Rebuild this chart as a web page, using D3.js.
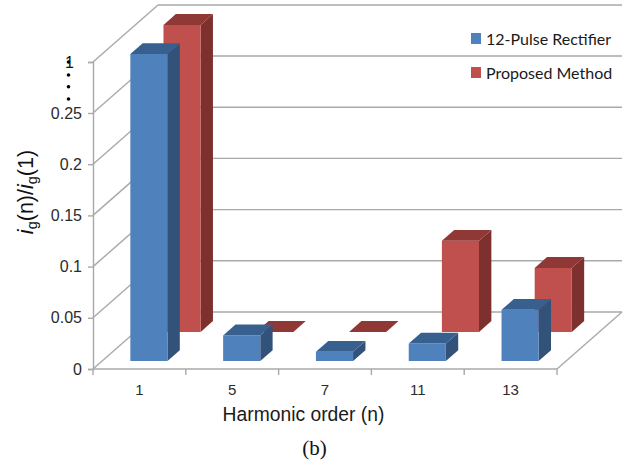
<!DOCTYPE html>
<html>
<head>
<meta charset="utf-8">
<script src="https://cdnjs.cloudflare.com/ajax/libs/d3/7.8.5/d3.min.js"></script>
<style>
  html, body { margin: 0; padding: 0; background: #fff; }
  svg { display: block; }
  text { font-family: "Liberation Sans", Arial, sans-serif; }
</style>
</head>
<body>
<svg id="chart" width="643" height="463"></svg>
<script>
const categories = ['1', '5', '7', '11', '13'];
const seriesNames = ['12-Pulse Rectifier', 'Proposed Method'];
const rectifier = [1, 0.025, 0.009, 0.017, 0.05];
const proposed = [1, 0, 0, 0.089, 0.0625];
const tickValues = [0, 0.05, 0.1, 0.15, 0.2, 0.25, 1];
const breakDots = [0, 0.33, 0.65, 1];

const svg = d3.select('#chart');

// axis is broken between 0.25 and 1
const y = d3.scaleLinear().domain([0, 0.25, 1]).range([369, 113, 62]);
const x = d3.scaleBand().domain(categories).range([93, 557])
  .paddingInner(0.6).paddingOuter(0.3);

// oblique depth of the 3d box
const depthX = 65, depthY = -57;
const px = (cat, t, side) => x(cat) + side * x.bandwidth() + t * depthX + 0.4;
const py = (v, t) => y(v) + t * depthY;

const grey = '#a9a9a9';

// walls and grid
const grid = svg.append('g').attr('fill', 'none').attr('stroke', grey).attr('stroke-width', 1.4);
grid.selectAll('line.back').data(tickValues).join('line')
  .attr('class', 'back')
  .attr('x1', 93 + depthX).attr('x2', 557 + depthX)
  .attr('y1', d => py(d, 1)).attr('y2', d => py(d, 1));
grid.selectAll('line.side').data(tickValues).join('line')
  .attr('class', 'side')
  .attr('x1', 93).attr('x2', 93 + depthX)
  .attr('y1', d => y(d)).attr('y2', d => py(d, 1));
grid.append('line').attr('x1', 557).attr('x2', 557 + depthX)
  .attr('y1', y(0)).attr('y2', py(0, 1));

// axes
const axisY = d3.axisLeft(y).tickValues(tickValues).tickSize(5).tickPadding(6)
  .tickFormat(d => String(d));
const gy = svg.append('g').attr('transform', 'translate(93,0)').call(axisY);
gy.select('.domain').attr('stroke', grey).attr('stroke-width', 1.4);
gy.selectAll('.tick line').attr('stroke', grey).attr('stroke-width', 1.4);
gy.selectAll('.tick text').attr('font-size', 16).attr('fill', '#2b2b2b');
gy.selectAll('.tick').filter(d => d === 1).select('text').attr('dx', -8).attr('fill', '#111');

// x axis, ticks sit between the categories
const xEdges = d3.range(categories.length + 1).map(i => 93 + i * x.step());
svg.append('line').attr('x1', 93).attr('x2', 557).attr('y1', y(0)).attr('y2', y(0))
  .attr('stroke', grey).attr('stroke-width', 1.4);
svg.selectAll('line.xtick').data(xEdges).join('line')
  .attr('class', 'xtick')
  .attr('x1', d => d).attr('x2', d => d)
  .attr('y1', y(0)).attr('y2', y(0) + 6)
  .attr('stroke', grey).attr('stroke-width', 1.4);
svg.selectAll('text.xlabel').data(categories).join('text')
  .attr('class', 'xlabel')
  .attr('x', d => x(d) + x.bandwidth() / 2)
  .attr('y', 395)
  .attr('text-anchor', 'middle').attr('font-size', 15).attr('fill', '#2b2b2b')
  .text(d => d);

// dots of the axis break
svg.selectAll('circle.brk').data(breakDots).join('circle')
  .attr('class', 'brk')
  .attr('cx', 68.5)
  .attr('cy', d => 99 - d * 37)
  .attr('r', 1.8).attr('fill', '#000');

// one 3d bar
function bar(g, cat, v, t0, t1, front, side, top) {
  const base = 0;
  const poly = pts => pts.map(p => p.join(',')).join(' ');
  if (v > 0) {
    g.append('polygon').attr('fill', side).attr('points', poly([
      [px(cat, t0, 1), py(base, t0)], [px(cat, t1, 1), py(base, t1)],
      [px(cat, t1, 1), py(v, t1)], [px(cat, t0, 1), py(v, t0)]]));
    g.append('polygon').attr('fill', front).attr('points', poly([
      [px(cat, t0, 0), py(base, t0)], [px(cat, t0, 1), py(base, t0)],
      [px(cat, t0, 1), py(v, t0)], [px(cat, t0, 0), py(v, t0)]]));
  }
  g.append('polygon').attr('fill', top).attr('points', poly([
    [px(cat, t0, 0), py(v, t0)], [px(cat, t0, 1), py(v, t0)],
    [px(cat, t1, 1), py(v, t1)], [px(cat, t1, 0), py(v, t1)]]));
}

const redG = svg.append('g');
categories.forEach((c, i) => bar(redG, c, proposed[i], 0.65, 0.84, '#c0504d', '#7d302e', '#8f3836'));
const blueG = svg.append('g');
categories.forEach((c, i) => bar(blueG, c, rectifier[i], 0.14, 0.33, '#4f81bd', '#32527a', '#38608f'));

// legend
const legendColor = d3.scaleOrdinal().domain(seriesNames).range(['#4f81bd', '#c0504d']);
const legend = svg.selectAll('g.legend').data(seriesNames).join('g')
  .attr('class', 'legend')
  .attr('transform', (d, i) => `translate(471,${33 + i * 34})`);
legend.append('rect').attr('width', 10).attr('height', 11).attr('fill', d => legendColor(d));
legend.append('text').attr('x', 15).attr('y', 11.5)
  .style('font-family', 'Lato').attr('font-size', 16).attr('fill', '#1a1a1a')
  .text(d => d);

// titles
svg.append('text').attr('x', 303.5).attr('y', 421).attr('text-anchor', 'middle')
  .attr('font-size', 19.3).attr('fill', '#1a1a1a').text('Harmonic order (n)');
svg.append('text').attr('x', 314.5).attr('y', 455).attr('text-anchor', 'middle')
  .style('font-family', '"Liberation Serif"').attr('font-size', 21).attr('fill', '#111')
  .text('(b)');

const yt = svg.append('text').attr('transform', 'translate(33,192) rotate(-90)')
  .attr('text-anchor', 'middle').attr('font-size', 21.5).attr('fill', '#111');
yt.append('tspan').attr('font-style', 'italic').text('i');
yt.append('tspan').attr('font-size', 14.5).attr('dy', 4).text('g');
yt.append('tspan').attr('dy', -4).text('(n)/');
yt.append('tspan').attr('font-style', 'italic').text('i');
yt.append('tspan').attr('font-size', 14.5).attr('dy', 4).text('g');
yt.append('tspan').attr('dy', -4).text('(1)');
</script>
</body>
</html>
